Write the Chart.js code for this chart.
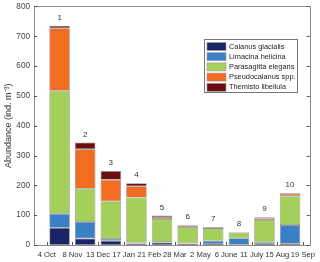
<!DOCTYPE html>
<html>
<head>
<meta charset="utf-8">
<script src="https://cdn.jsdelivr.net/npm/chart.js@4.4.1/dist/chart.umd.min.js"></script>
<style>
html, body { margin: 0; padding: 0; background: #fff; }
</style>
</head>
<body>
<canvas id="abundanceCanvas" width="320" height="262"></canvas>
<script>
// sampling dates (tick marks between the bars) and station numbers
var dateLabels = ['4 Oct', '8 Nov', '13 Dec', '17 Jan', '21 Feb', '28 Mar', '2 May', '6 June', '11 July', '15 Aug', '19 Sep'];
var stations = ['1', '2', '3', '4', '5', '6', '7', '8', '9', '10'];

// abundance, ind. m-3
var calanus       = [58, 22, 14, 5, 8, 5, 3, 1, 3, 4];
var limacina      = [47, 55, 6, 3, 2, 1, 11, 22, 6, 63];
var parasagitta   = [412, 112, 127, 151, 77, 54, 40, 18, 75, 96];
var pseudocalanus = [210, 132, 72, 38, 7, 5, 4, 2, 6, 9];
var themisto      = [8, 23, 29, 10, 5, 3, 2, 1, 3, 2];

var yTicks = [0, 100, 200, 300, 400, 500, 600, 700, 800];

var font = 'Liberation Sans, Arial, sans-serif';

function points(arr) {
    var out = [];
    for (var i = 0; i < arr.length; i++) {
        out.push({ x: i + 0.5, y: arr[i] });
    }
    return out;
}

function series(label, color, arr) {
    return {
        label: label,
        backgroundColor: color,
        borderColor: 'rgba(110,110,110,0.8)',
        borderWidth: 0.7,
        borderSkipped: false,
        barPercentage: 1.0,
        categoryPercentage: 0.8,
        data: points(arr)
    };
}

var chartdata = {
    datasets: [
        series('Calanus glacialis', '#1c2468', calanus),
        series('Limacina helicina', '#3b80c6', limacina),
        series('Parasagitta elegans', '#a4cf5b', parasagitta),
        series('Pseudocalanus spp.', '#f26d22', pseudocalanus),
        series('Themisto libellula', '#6c0d0f', themisto)
    ]
};

// axis box, inward ticks, station numbers, legend
var decorations = {
    id: 'decorations',
    afterDatasetsDraw: function (chart) {
        var ctx = chart.ctx;
        var top = chart.getDatasetMeta(chart.data.datasets.length - 1);
        ctx.save();
        ctx.font = '8px ' + font;
        ctx.fillStyle = '#333';
        ctx.textAlign = 'center';
        ctx.textBaseline = 'bottom';
        for (var i = 0; i < stations.length; i++) {
            var bar = top.data[i];
            ctx.fillText(stations[i], bar.x, bar.y - 4);
        }
        ctx.restore();
    },
    afterDraw: function (chart) {
        var ctx = chart.ctx;
        var a = chart.chartArea;
        var xs = chart.scales.x;
        var ys = chart.scales.y;
        ctx.save();
        ctx.strokeStyle = '#8c8c8c';
        ctx.lineWidth = 1;
        ctx.beginPath();
        ctx.rect(Math.round(a.left) + 0.5, Math.round(a.top) + 0.5,
                 Math.round(a.right - a.left), Math.round(a.bottom - a.top));
        ctx.stroke();

        ctx.strokeStyle = '#555';
        ctx.beginPath();
        for (var i = 0; i < yTicks.length; i++) {
            var py = Math.round(ys.getPixelForValue(yTicks[i])) + 0.5;
            ctx.moveTo(a.left, py); ctx.lineTo(a.left + 3, py);
            ctx.moveTo(a.right, py); ctx.lineTo(a.right - 3, py);
        }
        for (var j = 0; j < dateLabels.length; j++) {
            var px = Math.round(xs.getPixelForValue(j)) + 0.5;
            ctx.moveTo(px, a.bottom); ctx.lineTo(px, a.bottom - 3);
        }
        ctx.stroke();

        // legend
        var lx = 204, ly = 39, lw = 93, lh = 53, row = 10.2;
        ctx.fillStyle = '#fff';
        ctx.fillRect(lx, ly, lw, lh);
        ctx.strokeStyle = '#777';
        ctx.strokeRect(lx + 0.5, ly + 0.5, lw, lh);
        ctx.font = '7.4px ' + font;
        ctx.textAlign = 'left';
        ctx.textBaseline = 'middle';
        chart.data.datasets.forEach(function (ds, k) {
            var cy = ly + 7.5 + k * row;
            ctx.fillStyle = ds.backgroundColor;
            ctx.fillRect(lx + 3, cy - 4, 19, 8);
            ctx.strokeStyle = '#999';
            ctx.lineWidth = 0.6;
            ctx.strokeRect(lx + 3, cy - 4, 19, 8);
            ctx.fillStyle = '#222';
            ctx.fillText(ds.label, lx + 25, cy);
        });
        ctx.restore();
    }
};

var abundanceChart = new Chart(document.getElementById('abundanceCanvas'), {
    type: 'bar',
    data: chartdata,
    plugins: [decorations],
    options: {
        responsive: false,
        animation: false,
        layout: { padding: { top: 5, right: 4, left: 0, bottom: 0 } },
        plugins: {
            legend: { display: false },
            tooltip: { enabled: false }
        },
        scales: {
            x: {
                type: 'linear',
                stacked: true,
                offset: false,
                min: -0.5,
                max: 10.27,
                grid: { display: false, drawTicks: false },
                border: { display: false },
                afterBuildTicks: function (scale) {
                    scale.ticks = dateLabels.map(function (l, i) { return { value: i }; });
                },
                afterFit: function (scale) { scale.height = 17; },
                ticks: {
                    autoSkip: false,
                    maxRotation: 0,
                    padding: 5,
                    color: '#333',
                    font: { family: font, size: 7.6 },
                    callback: function (v) { return dateLabels[v]; }
                }
            },
            y: {
                stacked: true,
                min: 0,
                max: 800,
                grid: { display: false, drawTicks: false },
                border: { display: false },
                afterBuildTicks: function (scale) {
                    scale.ticks = yTicks.map(function (v) { return { value: v }; });
                },
                afterFit: function (scale) { scale.width = 34; },
                ticks: {
                    padding: 4,
                    color: '#444',
                    font: { family: font, size: 8.2, lineHeight: 0.6 }
                },
                title: {
                    display: true,
                    text: 'Abundance (ind. m\u207B\u00B3)',
                    color: '#333',
                    font: { family: font, size: 9 },
                    padding: { top: 3, bottom: 0 }
                }
            }
        }
    }
});
</script>
</body>
</html>
